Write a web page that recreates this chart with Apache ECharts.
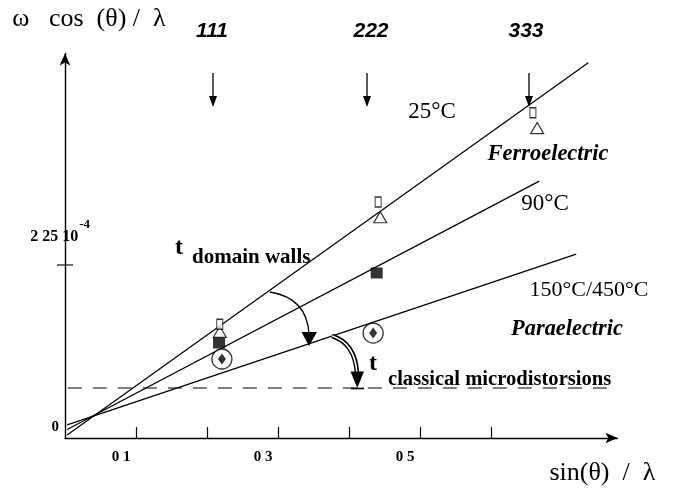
<!DOCTYPE html>
<html>
<head>
<meta charset="utf-8">
<script src="https://cdn.jsdelivr.net/npm/echarts@6/dist/echarts.min.js"></script>
<style>
html,body{margin:0;padding:0;background:#fff;}
#chart{width:678px;height:488px;}
</style>
</head>
<body>
<div id="chart"></div>
<script>
// ---- data (y in units of 1e-4) ----
const xTickValues = [0.1, 0.2, 0.3, 0.4, 0.5, 0.6];
const xLabelValues = [0.1, 0.3, 0.5];
const xLabelTexts = ['0 1', '0 3', '0 5'];
const yLabelValues = [0, 2.25];
const yLabelTexts = ['0', '2 25 10'];
const yLabelExponent = '-4';

const line25 = [[0.003, 0.04], [0.737, 4.88]];
const line90 = [[0.003, 0.11], [0.668, 3.34]];
const line150 = [[0.003, 0.17], [0.720, 2.39]];
const dashLevel = [[0.004, 0.65], [0.777, 0.65]];

const openRect25 = [[0.218, 1.48], [0.441, 3.07], [0.659, 4.23]];
const triangle25 = [[0.218, 1.38], [0.444, 2.87], [0.665, 4.03]];
const square90 = [[0.217, 1.235], [0.439, 2.146]];
const diamond150 = [[0.221, 1.027], [0.434, 1.365]];
const yCrossTick = [[0, 2.25]];

const hklLabels = ['111', '222', '333'];

const SERIF = "'Liberation Serif','Times New Roman',serif";
const SANS = "'Liberation Sans',Arial,sans-serif";

const chart = echarts.init(document.getElementById('chart'), null, {renderer: 'canvas'});

const lineStyleBase = {color: '#000', width: 1.3};
function lineSeries(name, data, extra) {
  return Object.assign({
    name, type: 'line', data, showSymbol: false, symbol: 'none',
    lineStyle: Object.assign({}, lineStyleBase), silent: true, z: 2, animation: false
  }, extra || {});
}

const option = {
  animation: false,
  backgroundColor: '#fff',
  grid: {left: 65, right: 60.6, top: 53.5, bottom: 50, containLabel: false},
  xAxis: {
    type: 'value', min: 0, max: 0.778, interval: 0.1,
    name: 'sin(θ)  /  λ', nameLocation: 'end', nameGap: -68,
    nameTextStyle: {fontFamily: SERIF, fontSize: 26, color: '#000', align: 'left', verticalAlign: 'top', padding: [22, 0, 0, 0]},
    axisLine: {show: true, lineStyle: {color: '#000', width: 1.4}, symbol: ['none', 'arrow'], symbolSize: [8, 12]},
    axisTick: {show: true, inside: true, length: 11, customValues: xTickValues, lineStyle: {color: '#000', width: 1.2}},
    axisLabel: {
      show: true, customValues: xLabelValues, margin: 12,
      formatter: v => { const i = xLabelValues.findIndex(a => Math.abs(a - v) < 1e-6); return i >= 0 ? xLabelTexts[i] : ''; },
      fontFamily: SERIF, fontSize: 15, fontWeight: 'bold', color: '#000', padding: [0, 30, 0, 0]
    },
    splitLine: {show: false}
  },
  yAxis: {
    type: 'value', min: 0, max: 5, interval: 2.25,
    name: 'ω   cos  (θ) /  λ', nameLocation: 'end', nameGap: 34.5,
    nameTextStyle: {fontFamily: SERIF, fontSize: 26, color: '#000', align: 'center', verticalAlign: 'middle', padding: [0, 0, 0, 48]},
    axisLine: {show: true, lineStyle: {color: '#000', width: 1.4}, symbol: ['none', 'arrow'], symbolSize: [8, 12]},
    axisTick: {show: false},
    axisLabel: {
      show: true, customValues: yLabelValues, margin: -25, padding: [0, 0, 56, 0],
      formatter: v => {
        if (Math.abs(v - yLabelValues[0]) < 1e-9) return '{z|' + yLabelTexts[0] + '}';
        if (Math.abs(v - yLabelValues[1]) < 1e-9) return '{m|' + yLabelTexts[1] + '}{s|' + yLabelExponent + '}';
        return '';
      },
      rich: {
        z: {fontFamily: SERIF, fontSize: 15, fontWeight: 'bold', color: '#000', padding: [34, 31, 0, 0]},
        m: {fontFamily: SERIF, fontSize: 16, fontWeight: 'bold', color: '#000'},
        s: {fontFamily: SERIF, fontSize: 13, fontWeight: 'bold', color: '#000', padding: [0, 0, 24, 1]}
      }
    },
    splitLine: {show: false}
  },
  series: [
    lineSeries('25°C', line25),
    lineSeries('90°C', line90),
    lineSeries('150°C/450°C', line150),
    lineSeries('classical microdistorsions level', dashLevel, {lineStyle: {color: '#000', width: 1.2, type: [14, 11]}}),
    {name: 'y tick', type: 'scatter', data: yCrossTick, symbol: 'rect', symbolSize: [16, 1.4], clip: false,
      itemStyle: {color: '#000'}, silent: true, z: 5},
    {name: '25°C triangle', type: 'scatter', data: triangle25, symbol: 'triangle', symbolSize: [13, 11],
      itemStyle: {color: '#fff', borderColor: '#000', borderWidth: 1.2}, z: 4},
    {name: '25°C rect', type: 'scatter', data: openRect25, symbol: 'rect', symbolSize: [6, 10],
      itemStyle: {color: '#fff', borderColor: '#000', borderWidth: 1.2}, z: 5},
    {name: '90°C', type: 'scatter', data: square90, symbol: 'rect', symbolSize: [12, 11],
      itemStyle: {color: '#000'}, z: 4},
    {name: '150°C circle', type: 'scatter', data: diamond150, symbol: 'circle', symbolSize: 20,
      itemStyle: {color: '#fff', borderColor: '#000', borderWidth: 1.3}, z: 4},
    {name: '150°C/450°C', type: 'scatter', data: diamond150, symbol: 'diamond', symbolSize: [8, 11],
      itemStyle: {color: '#000'}, z: 5}
  ]
};
chart.setOption(option);

// ---- annotations ----
function txt(text, x, y, font, opts) {
  return Object.assign({
    type: 'text', x, y, silent: true, z: 10,
    style: Object.assign({text, font, fill: '#000', align: 'center', verticalAlign: 'middle'}, (opts || {}))
  });
}
function downArrow(x, y0, y1) {
  return [
    {type: 'line', silent: true, z: 10, shape: {x1: x, y1: y0, x2: x, y2: y1 - 9}, style: {stroke: '#000', lineWidth: 1.3}},
    {type: 'polygon', silent: true, z: 10, shape: {points: [[x - 4, y1 - 11], [x + 4, y1 - 11], [x, y1]]}, style: {fill: '#000'}}
  ];
}
const hklX = [213, 367, 529];
const hklTextX = [212, 371, 526];
const g = [];
hklLabels.forEach((l, i) => {
  g.push(txt(l, hklTextX[i], 31, 'italic bold 21px ' + SANS));
  g.push(...downArrow(hklX[i], 73, 107));
});
g.push(txt('25°C', 432, 112, '23px ' + SERIF));
g.push(txt('Ferroelectric', 548, 154, 'italic bold 22.5px ' + SERIF));
g.push(txt('90°C', 545, 204, '23px ' + SERIF));
g.push(txt('150°C/450°C', 589, 290, '22px ' + SERIF));
g.push(txt('Paraelectric', 567, 329, 'italic bold 22.4px ' + SERIF));
g.push(txt('t', 179, 248, 'bold 24px ' + SERIF));
g.push(txt('domain walls', 192, 258, 'bold 21px ' + SERIF, {align: 'left'}));
g.push(txt('t', 373, 364, 'bold 24px ' + SERIF));
g.push(txt('classical microdistorsions', 388, 380, 'bold 20.6px ' + SERIF, {align: 'left'}));
// domain-wall arrow
g.push({type: 'bezierCurve', silent: true, z: 9, shape: {x1: 270, y1: 292, cpx1: 307, cpy1: 298, x2: 309, y2: 334},
  style: {stroke: '#000', lineWidth: 1.3, fill: null}});
g.push({type: 'polygon', silent: true, z: 9, shape: {points: [[301.5, 332], [317, 332], [309, 346]]}, style: {fill: '#000'}});
// classical microdistorsion double arrow
g.push({type: 'bezierCurve', silent: true, z: 9, shape: {x1: 332, y1: 336, cpx1: 355, cpy1: 343, x2: 357, y2: 373},
  style: {stroke: '#000', lineWidth: 4.6, fill: null}});
g.push({type: 'bezierCurve', silent: true, z: 9, shape: {x1: 332, y1: 336, cpx1: 355, cpy1: 343, x2: 357, y2: 374},
  style: {stroke: '#fff', lineWidth: 1.6, fill: null}});
g.push({type: 'polygon', silent: true, z: 9, shape: {points: [[350.5, 371.5], [364, 371.5], [357.3, 388]]}, style: {fill: '#000'}});
g.push({type: 'line', silent: true, z: 9, shape: {x1: 351, y1: 388.5, x2: 364, y2: 388.5}, style: {stroke: '#000', lineWidth: 1.6}});

chart.setOption({graphic: g});
</script>
</body>
</html>
